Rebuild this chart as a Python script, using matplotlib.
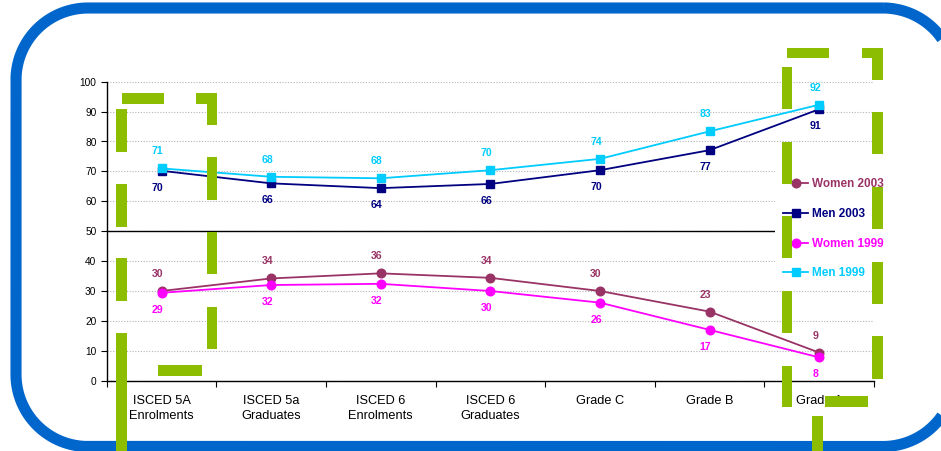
import numpy as np
import matplotlib
matplotlib.use("Agg")
import matplotlib.pyplot as plt
from matplotlib.patches import Rectangle, PathPatch
from matplotlib.path import Path
from matplotlib.font_manager import FontProperties

plt.rcParams['font.family'] = ['Liberation Sans', 'DejaVu Sans']

categories = ["ISCED 5A\nEnrolments", "ISCED 5a\nGraduates", "ISCED 6\nEnrolments",
              "ISCED 6\nGraduates", "Grade C", "Grade B", "Grade A"]
women_2003 = [30.0, 34.2, 35.9, 34.4, 30.0, 23.1, 9.4]
men_2003 = [70.2, 66.0, 64.4, 65.8, 70.4, 77.1, 90.8]
women_1999 = [29.4, 32.0, 32.4, 30.0, 26.1, 17.0, 7.8]
men_1999 = [71.0, 68.2, 67.7, 70.4, 74.2, 83.4, 92.3]
y_ticks = [0, 10, 20, 30, 40, 50, 60, 70, 80, 90, 100]

W, H = 941, 451
fig = plt.figure(figsize=(W / 100, H / 100), dpi=100)
fig.patch.set_facecolor('white')

ax = fig.add_axes([106.7 / W, (H - 380.7) / H, (874 - 106.7) / W, (380.7 - 81.7) / H])
x = np.arange(len(categories))

series = [
    ("Women 2003", women_2003, '#993366', 'o', 1),
    ("Men 2003", men_2003, '#000080', 's', -1),
    ("Women 1999", women_1999, '#FF00FF', 'o', -1),
    ("Men 1999", men_1999, '#00CCFF', 's', 1),
]
for name, vals, col, mk, side in series:
    ax.plot(x, vals, color=col, marker=mk, markersize=6.2, lw=1.3, label=name, zorder=3)
    for xi, v in zip(x, vals):
        ax.annotate(str(int(round(v))), (xi, v), xytext=(-4, 17 * side),
                    textcoords='offset pixels', ha='center', va='center',
                    fontsize=7.6, fontweight='bold', color=col, zorder=4)

ax.set_xlim(-0.5, len(categories) - 0.5)
ax.set_ylim(0, 100)
ax.set_yticks(y_ticks)
ax.set_yticklabels([str(t) for t in y_ticks], fontsize=7.3)
ax.yaxis.grid(True, linestyle=(0, (1, 1.5)), color='#b4b4b4', lw=0.8, zorder=0)
ax.set_axisbelow(True)
ax.axhline(50, color='black', lw=1.0, zorder=1)

ax.set_xticks(x)
ax.set_xticklabels(categories, fontsize=9.2)
for t in ax.get_xticklabels():
    t.set_linespacing(1.25)
ax.set_xticks(np.arange(-0.5, len(categories), 1), minor=True)
ax.tick_params(axis='x', which='major', length=0, pad=10.5)
ax.tick_params(axis='x', which='minor', length=4, direction='out', width=0.8)
ax.tick_params(axis='y', length=4, direction='out', width=0.8, pad=3.4)
for s in ['top', 'right']:
    ax.spines[s].set_visible(False)
for s in ['left', 'bottom']:
    ax.spines[s].set_linewidth(1.0)

leg = ax.legend(loc='upper left', bbox_to_anchor=(775 / W, 1 - 170 / H),
                bbox_transform=fig.transFigure, frameon=True, facecolor='white',
                edgecolor='none', framealpha=1, fancybox=False, borderpad=0.7,
                borderaxespad=0, handlelength=2.1, handletextpad=0.3,
                labelspacing=1.5,
                prop=FontProperties(family='Liberation Sans', weight='bold', size=8.5))
for txt, ln in zip(leg.get_texts(), leg.get_lines()):
    txt.set_color(ln.get_color())

# Blue rounded border: circular corners, computed in top-left pixel coords
bl, bt, br, bb, rad = 16, 8, 955, 446.5, 72
corners = [  # (center x, center y, start angle, end angle) ; y downward
    (br - rad, bt + rad, -90, 0),
    (br - rad, bb - rad, 0, 90),
    (bl + rad, bb - rad, 90, 180),
    (bl + rad, bt + rad, 180, 270),
]
pts = []
for cx, cy, a0, a1 in corners:
    th = np.radians(np.linspace(a0, a1, 40))
    pts.extend(zip(cx + rad * np.cos(th), cy + rad * np.sin(th)))
pts.append(pts[0])
pts = np.array(pts)
verts = np.column_stack([pts[:, 0] / W, 1 - pts[:, 1] / H])
border = PathPatch(Path(verts), transform=fig.transFigure, fill=False,
                   ec='#0066CC', lw=8.0, zorder=2, joinstyle='round')
fig.add_artist(border)

# Green dashed decorations (x0, x1, y0, y1 in top-left pixel coords)
green = '#8CBD00'
bars = [
    (121.7, 164, 93.3, 104), (196, 217.3, 93.3, 104),
    (206.7, 217.3, 93.3, 125), (206.7, 217.3, 157, 200),
    (206.7, 217.3, 232, 274), (206.7, 217.3, 307, 349),
    (116, 126.7, 109, 152), (116, 126.7, 184, 227),
    (116, 126.7, 258, 301), (116, 126.7, 333, 452),
    (158, 201.5, 365, 376),
    (786.7, 829, 48.3, 58.5), (861.7, 882.5, 48.3, 58.5),
    (872.3, 882.5, 48.3, 80), (872.3, 882.5, 112, 154),
    (872.3, 882.5, 187, 229), (872.3, 882.5, 262, 304),
    (872.3, 882.5, 336, 378.5),
    (781.7, 791.7, 67, 109), (781.7, 791.7, 142, 184),
    (781.7, 791.7, 216, 258), (781.7, 791.7, 291, 333),
    (781.7, 791.7, 366, 407),
    (825, 867.7, 396, 407), (812, 822.5, 416, 452),
]
for x0, x1, y0, y1 in bars:
    fig.add_artist(Rectangle((x0 / W, 1 - y1 / H), (x1 - x0) / W, (y1 - y0) / H,
                             transform=fig.transFigure, facecolor=green,
                             edgecolor='none', zorder=3))

fig.savefig('out.png', dpi=100, facecolor='white')
